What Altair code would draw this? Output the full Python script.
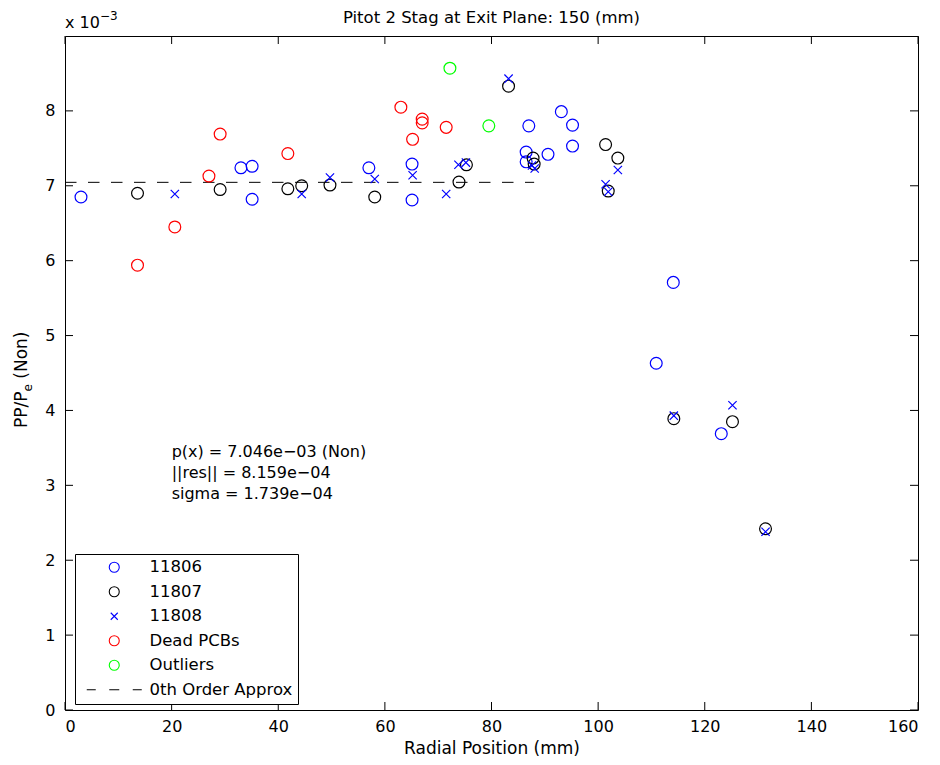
import altair as alt
import pandas as pd

# values (y in units of 1e-3)
x_11806 = [3.0, 33.0, 35.1, 35.1, 57.0, 65.1, 65.1, 86.5, 86.5, 87.0, 90.6, 93.1, 95.2, 95.2, 110.9, 114.1, 123.1]
y_11806 = [6.85, 7.24, 7.26, 6.82, 7.24, 7.29, 6.81, 7.45, 7.32, 7.80, 7.42, 7.99, 7.81, 7.53, 4.63, 5.71, 3.69]

x_11807 = [13.6, 29.1, 41.8, 44.4, 49.7, 58.1, 73.9, 75.3, 83.2, 87.8, 88.0, 101.4, 103.7, 101.9, 114.2, 125.2, 131.4]
y_11807 = [6.90, 6.95, 6.96, 7.00, 7.01, 6.85, 7.05, 7.28, 8.33, 7.37, 7.29, 7.55, 7.37, 6.93, 3.89, 3.85, 2.42]

x_11808 = [20.6, 44.4, 49.7, 58.1, 65.2, 71.5, 73.8, 75.2, 83.2, 87.6, 88.1, 101.4, 101.9, 103.7, 114.2, 125.2, 131.4]
y_11808 = [6.89, 6.89, 7.11, 7.09, 7.14, 6.89, 7.28, 7.31, 8.43, 7.27, 7.23, 7.02, 6.92, 7.21, 3.93, 4.07, 2.38]

x_dead = [13.6, 20.6, 27.0, 29.1, 41.8, 63.0, 65.2, 67.0, 67.0, 71.5]
y_dead = [5.94, 6.45, 7.13, 7.69, 7.43, 8.05, 7.62, 7.89, 7.84, 7.78]

x_out = [72.2, 79.5]
y_out = [8.57, 7.80]

fit_x = [0.0, 88.0]
fit_y = [7.046, 7.046]

x_ticks = [0, 20, 40, 60, 80, 100, 120, 140, 160]
y_ticks = [0, 1, 2, 3, 4, 5, 6, 7, 8]

series_names = ["11806", "11807", "11808", "Dead PCBs", "Outliers", "0th Order Approx"]
series_colors = ["#0000ff", "#000000", "#0000ff", "#ff0000", "#00ff00", "#000000"]

annot_lines = ["p(x) = 7.046e\u221203 (Non)", "||res|| = 8.159e\u221204", "sigma = 1.739e\u221204"]
annot_x = [20.0, 20.0, 20.0]
annot_y = [3.445, 3.164, 2.884]

title_text = "Pitot 2 Stag at Exit Plane: 150 (mm)"
ytitle_main, ytitle_sub, ytitle_tail = "PP/P", "e", "(Non)"

FONT = "DejaVu Sans"
W, H = 853, 674

rows = []
for name, xs_, ys_ in [("11806", x_11806, y_11806), ("11807", x_11807, y_11807),
                       ("11808", x_11808, y_11808), ("Dead PCBs", x_dead, y_dead),
                       ("Outliers", x_out, y_out)]:
    for a, b in zip(xs_, ys_):
        rows.append({"x": a, "y": b, "series": name})
df = pd.DataFrame(rows)
fit_df = pd.DataFrame({"x": fit_x, "y": fit_y})
xt_df = pd.DataFrame({"x": x_ticks})
yt_df = pd.DataFrame({"y": y_ticks})
ann_df = pd.DataFrame({"x": annot_x, "y": annot_y, "t": annot_lines})

cross = "M-0.7,-0.7L0.7,0.7M0.7,-0.7L-0.7,0.7"
dash = "M-5.5,0L-3.7,0M-1,0L1,0M3.7,0L5.5,0"
shape_range = ["circle", "circle", cross, "circle", "circle", dash]

xs = alt.Scale(domain=[0, 160], nice=False, zero=False)
ys = alt.Scale(domain=[0, 9], nice=False, zero=False)
x_axis = alt.Axis(values=x_ticks, title="Radial Position (mm)", labelPadding=8, titlePadding=6)
y_axis = alt.Axis(values=y_ticks, title=None, labelPadding=10)
X = alt.X("x:Q", scale=xs, axis=x_axis)
Y = alt.Y("y:Q", scale=ys, axis=y_axis)

leg = alt.Legend(title=None, orient="none", legendX=10, legendY=518,
                 fillColor="white", strokeColor="black", padding=5,
                 symbolSize=100, symbolStrokeWidth=1.1, symbolOffset=26,
                 labelOffset=27, labelFont=FONT, labelFontSize=16.5,
                 labelColor="black", rowPadding=7.5, cornerRadius=0)

points = alt.Chart(df).mark_point(filled=False, size=140, strokeWidth=1.2, opacity=1).encode(
    x=X, y=Y,
    color=alt.Color("series:N", scale=alt.Scale(domain=series_names, range=series_colors), legend=leg),
    shape=alt.Shape("series:N", scale=alt.Scale(domain=series_names, range=shape_range), legend=leg),
)

fit = alt.Chart(fit_df).mark_line(color="black", strokeDash=[11.5, 11.5], strokeWidth=1).encode(x=X, y=Y)

tick_len = 8
bt = alt.Chart(xt_df).mark_rule(color="black", strokeWidth=1).encode(
    x=X, y=alt.value(H), y2=alt.value(H - tick_len))
tt = alt.Chart(xt_df).mark_rule(color="black", strokeWidth=1).encode(
    x=X, y=alt.value(0), y2=alt.value(tick_len))
lt = alt.Chart(yt_df).mark_rule(color="black", strokeWidth=1).encode(
    y=Y, x=alt.value(0), x2=alt.value(tick_len))
rt = alt.Chart(yt_df).mark_rule(color="black", strokeWidth=1).encode(
    y=Y, x=alt.value(W), x2=alt.value(W - tick_len))

ann = alt.Chart(ann_df).mark_text(align="left", baseline="middle", font=FONT, fontSize=16,
                                  color="black").encode(x=X, y=Y, text="t:N")

one = pd.DataFrame({"k": [0]})


def label(text, x, y, size, align="left", angle=0):
    return alt.Chart(one).mark_text(align=align, baseline="alphabetic", font=FONT, fontSize=size,
                                    color="black", angle=angle).encode(
        x=alt.value(x), y=alt.value(y), text=alt.value(text))


exp_base = label("x 10", 0, -8, 16)
exp_sup = label("\u22123", 35, -16, 12)
title_mark = label(title_text, W / 2, -13, 16.5, align="center")

# rotated y-axis title with a real subscript
y0 = 392
yt_main = label(ytitle_main, -38, y0, 17, angle=270)
yt_sub = label(ytitle_sub, -33, y0 - 36.5, 12, angle=270)
yt_tail = label(ytitle_tail, -38, y0 - 36.5 - 7.4 - 5.4, 17, angle=270)

chart = alt.layer(fit, points, bt, tt, lt, rt, ann, exp_base, exp_sup, title_mark,
                  yt_main, yt_sub, yt_tail).properties(
    width=W, height=H,
    autosize="none",
    background="white",
    padding={"left": 57, "top": 28, "right": 6, "bottom": 46},
).configure_view(stroke="black", strokeWidth=1).configure_axis(
    labelFont=FONT, labelFontSize=16, labelColor="black", titleFont=FONT, titleFontSize=17,
    titleFontWeight="normal", titleColor="black", ticks=False, domain=False, grid=False,
)

chart.save("out.html", embed_options={"renderer": "svg", "actions": False})
